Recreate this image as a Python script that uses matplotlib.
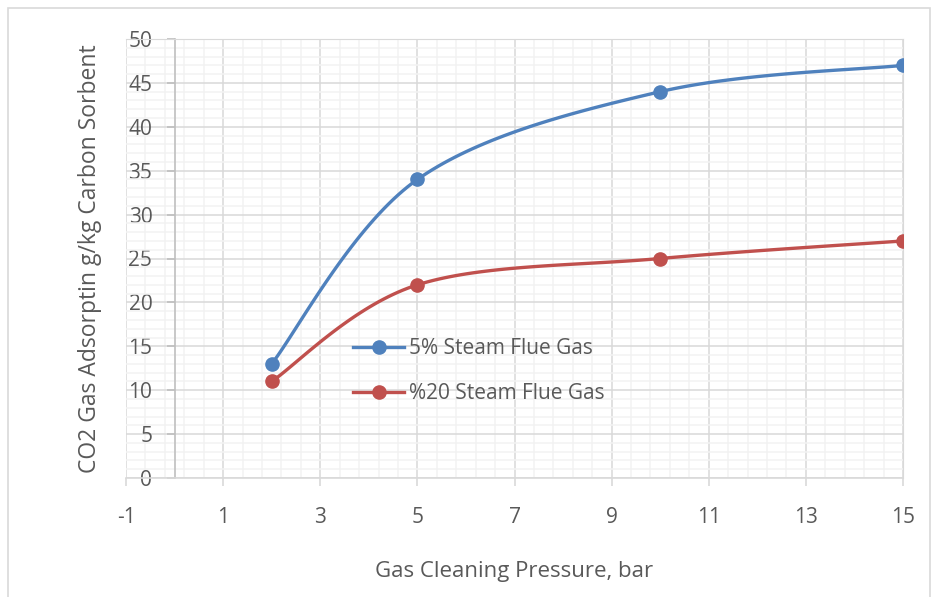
import numpy as np
import matplotlib
matplotlib.use("Agg")
import matplotlib.pyplot as plt
from matplotlib.patches import Rectangle
from matplotlib.ticker import MultipleLocator

# Measured adsorption data
pressure = [2, 5, 10, 15]
steam_5 = [13, 34, 44, 47]
steam_20 = [11, 22, 25, 27]
series_names = ["5% Steam Flue Gas", "%20 Steam Flue Gas"]
series_colors = ["#4F81BD", "#C0504D"]

x_ticks = [-1, 1, 3, 5, 7, 9, 11, 13, 15]
y_ticks = [0, 5, 10, 15, 20, 25, 30, 35, 40, 45, 50]

TEXT = "#595959"
plt.rcParams["font.family"] = ["Open Sans", "DejaVu Sans"]

W, H = 933, 597
fig = plt.figure(figsize=(W / 100, H / 100), dpi=100)
ax = fig.add_axes([126 / W, 1 - 478 / H, (903 - 126) / W, (478 - 39) / H])

# Outer chart border
fig.patches.append(Rectangle((8 / W, -0.05), (930 - 8) / W, 1.05 - 8 / H,
                             transform=fig.transFigure, fill=False,
                             edgecolor="#d9d9d9", linewidth=1.2))

ax.set_xlim(-1, 15)
ax.set_ylim(0, 50)

# Gridlines
ax.xaxis.set_major_locator(MultipleLocator(2, offset=1))
ax.xaxis.set_minor_locator(MultipleLocator(0.4, offset=0.2))
ax.yaxis.set_major_locator(MultipleLocator(5))
ax.yaxis.set_minor_locator(MultipleLocator(1))
ax.grid(which="minor", color="#f2f2f2", linewidth=1.1)
ax.grid(which="major", color="#d9d9d9", linewidth=1.1)
ax.set_axisbelow(True)

ax.set_xticks(x_ticks)
ax.set_yticks(y_ticks)
ax.set_xticklabels([str(t) for t in x_ticks])
ax.set_yticklabels([str(t) for t in y_ticks])

for s in ["top", "right"]:
    ax.spines[s].set_color("#d9d9d9")
ax.spines["left"].set_position(("data", 0))
ax.spines["left"].set_color("#bfbfbf")
ax.spines["bottom"].set_color("#d9d9d9")
ax.spines["left"].set_linewidth(1.2)
ax.spines["bottom"].set_linewidth(1.2)

ax.tick_params(axis="both", which="minor", length=0)
ax.tick_params(axis="y", which="major", direction="out", length=6, width=1.2,
               color="#bfbfbf", labelsize=15, labelcolor=TEXT, pad=10)
ax.tick_params(axis="x", which="major", direction="out", length=6, width=1.2,
               color="#d9d9d9", labelsize=15, labelcolor=TEXT, pad=15)

ax.set_xlabel("Gas Cleaning Pressure, bar", fontsize=16, color=TEXT, labelpad=24)
ax.set_ylabel("CO2 Gas Adsorptin g/kg Carbon Sorbent", fontsize=16.5, color=TEXT)
ax.yaxis.set_label_coords(-(126 - 102) / (903 - 126), 0.5)


def smooth_curve(xs, ys, n=40):
    """Bezier smoothing (Catmull-Rom style) computed in display space."""
    pts = ax.transData.transform(np.column_stack([xs, ys]))
    out = []
    m = len(pts)
    for i in range(m - 1):
        p0 = pts[max(i - 1, 0)]
        p1 = pts[i]
        p2 = pts[i + 1]
        p3 = pts[min(i + 2, m - 1)]
        c1 = p1 + (p2 - p0) / 6.0
        c2 = p2 - (p3 - p1) / 6.0
        t = np.linspace(0, 1, n)[:, None]
        seg = ((1 - t) ** 3) * p1 + 3 * ((1 - t) ** 2) * t * c1 \
            + 3 * (1 - t) * t ** 2 * c2 + t ** 3 * p2
        out.append(seg if i == 0 else seg[1:])
    out = np.vstack(out)
    return ax.transData.inverted().transform(out)


handles = []
for ys, name, col in zip([steam_5, steam_20], series_names, series_colors):
    curve = smooth_curve(pressure, ys)
    ax.plot(curve[:, 0], curve[:, 1], color=col, linewidth=2.4,
            solid_capstyle="round", zorder=3)
    ax.plot(pressure, ys, linestyle="none", marker="o", markersize=9.5,
            color=col, zorder=4)
    h, = ax.plot([], [], color=col, linewidth=2.4, marker="o",
                 markersize=9.5, label=name)
    handles.append(h)

leg = ax.legend(handles=handles, loc="upper left",
                bbox_to_anchor=((345 - 126) / (903 - 126), 1 - (330 - 39) / (478 - 39)),
                frameon=False, fontsize=15, handlelength=2.45, handletextpad=0.2,
                labelspacing=1.15, borderaxespad=0)
for t in leg.get_texts():
    t.set_color(TEXT)

fig.savefig("out.png", dpi=100)
